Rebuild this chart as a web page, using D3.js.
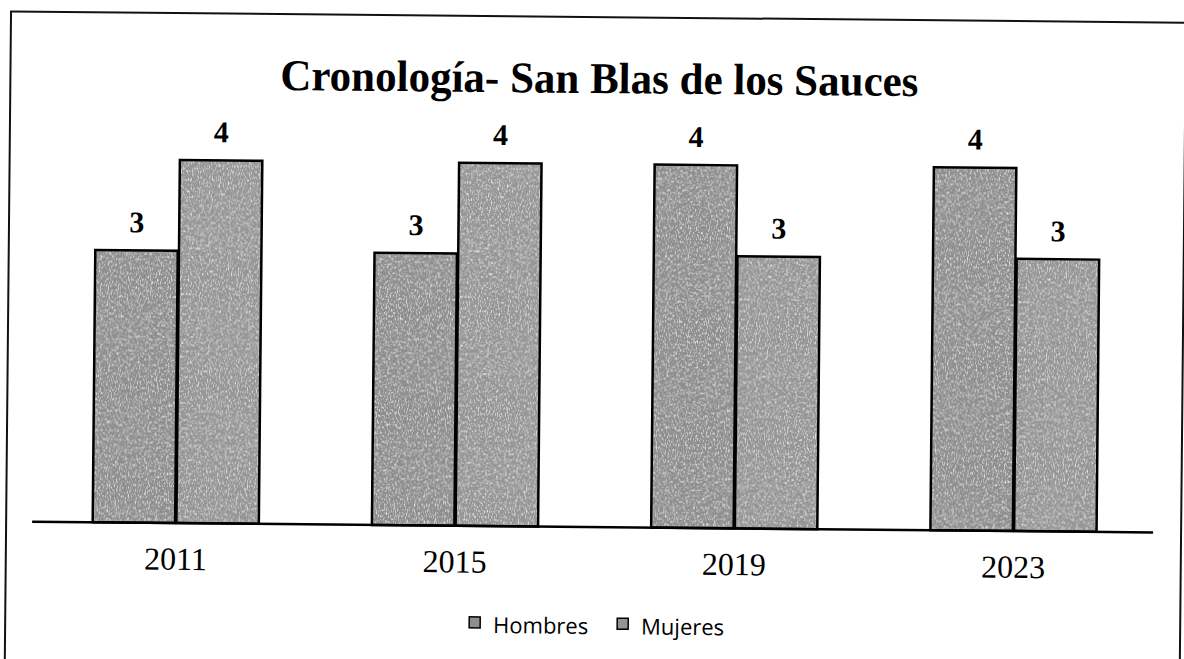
<!DOCTYPE html>
<html lang="es">
<head>
  <meta charset="UTF-8">
  <title>Cronología- San Blas de los Sauces</title>
  <script src="https://d3js.org/d3.v7.min.js"></script>
  <style>
    body { margin: 0; background: #fff; }
    svg { display: block; }
  </style>
</head>
<body>

<svg id="chart" width="1184" height="659"></svg>

<script>
  // data
  var years = ['2011', '2015', '2019', '2023'];
  var series = ['Hombres', 'Mujeres'];
  var hombres = [3, 3, 4, 4];
  var mujeres = [4, 4, 3, 3];

  var rows = years.map(function (y, i) {
    return { year: y, Hombres: hombres[i], Mujeres: mujeres[i] };
  });

  var svg = d3.select('#chart');

  // grainy grey, like the photocopy
  var defs = svg.append('defs');
  var grain = defs.append('filter').attr('id', 'grain')
    .attr('x', 0).attr('y', 0).attr('width', 1).attr('height', 1);
  grain.append('feTurbulence')
    .attr('type', 'fractalNoise')
    .attr('baseFrequency', '0.9 0.35')
    .attr('numOctaves', 2)
    .attr('seed', 3)
    .attr('result', 'noise');
  grain.append('feColorMatrix')
    .attr('in', 'noise')
    .attr('type', 'matrix')
    .attr('values', '0 0 0 0 1  0 0 0 0 1  0 0 0 0 1  0 0 0 2.2 -1.1')
    .attr('result', 'specks');
  grain.append('feComposite')
    .attr('in', 'specks').attr('in2', 'SourceGraphic')
    .attr('operator', 'in')
    .attr('result', 'clipped');
  grain.append('feMerge').call(function (m) {
    m.append('feMergeNode').attr('in', 'SourceGraphic');
    m.append('feMergeNode').attr('in', 'clipped');
  });

  // the scan is tilted a little, so the whole chart is too
  var g = svg.append('g').attr('transform', 'rotate(0.55, 592, 330)');

  // chart frame
  g.append('rect')
    .attr('x', 8).attr('y', 17)
    .attr('width', 1175).attr('height', 720)
    .attr('fill', 'none')
    .attr('stroke', '#111')
    .attr('stroke-width', 2);

  var x0 = d3.scaleBand()
    .domain(years)
    .range([38, 1155])
    .paddingInner(0.405)
    .paddingOuter(0.2025);

  var x1 = d3.scaleBand()
    .domain(series)
    .range([0, x0.bandwidth()])
    .paddingInner(0.015);

  var y = d3.scaleLinear()
    .domain([0, 4])
    .range([527, 164]);

  var fills = { Hombres: '#8e8e8e', Mujeres: '#959595' };

  // bars
  var groups = g.selectAll('g.year')
    .data(rows)
    .enter()
    .append('g')
    .attr('class', 'year')
    .attr('transform', function (d) { return 'translate(' + x0(d.year) + ',0)'; });

  groups.selectAll('rect')
    .data(function (d) { return series.map(function (s) { return { key: s, value: d[s] }; }); })
    .enter()
    .append('rect')
    .attr('x', function (d) { return x1(d.key); })
    .attr('y', function (d) { return y(d.value); })
    .attr('width', x1.bandwidth())
    .attr('height', function (d) { return y(0) - y(d.value); })
    .attr('fill', function (d) { return fills[d.key]; })
    .attr('filter', 'url(#grain)');

  groups.selectAll('rect.edge')
    .data(function (d) { return series.map(function (s) { return { key: s, value: d[s] }; }); })
    .enter()
    .append('rect')
    .attr('class', 'edge')
    .attr('x', function (d) { return x1(d.key); })
    .attr('y', function (d) { return y(d.value); })
    .attr('width', x1.bandwidth())
    .attr('height', function (d) { return y(0) - y(d.value); })
    .attr('fill', 'none')
    .attr('stroke', '#000')
    .attr('stroke-width', 2.5);

  // value labels
  groups.selectAll('text')
    .data(function (d) { return series.map(function (s) { return { key: s, value: d[s] }; }); })
    .enter()
    .append('text')
    .attr('x', function (d) { return x1(d.key) + x1.bandwidth() / 2; })
    .attr('y', function (d) { return y(d.value) - 18; })
    .attr('text-anchor', 'middle')
    .style('font-family', '"Liberation Serif", "Times New Roman", serif')
    .style('font-weight', 'bold')
    .style('font-size', '30px')
    .text(function (d) { return d.value; });

  // x axis
  var xAxis = d3.axisBottom(x0).tickSize(0).tickPadding(24);
  var axisG = g.append('g')
    .attr('transform', 'translate(0,' + y(0) + ')')
    .call(xAxis);
  axisG.select('.domain')
    .attr('d', 'M34,0H1155')
    .attr('stroke', '#000')
    .attr('stroke-width', 2.5);
  axisG.selectAll('text')
    .attr('fill', '#000')
    .style('font-family', '"Liberation Serif", "Times New Roman", serif')
    .style('font-size', '32px');

  // title
  g.append('text')
    .attr('x', 597)
    .attr('y', 93)
    .attr('text-anchor', 'middle')
    .attr('textLength', 638)
    .attr('lengthAdjust', 'spacingAndGlyphs')
    .style('font-family', '"Liberation Serif", "Times New Roman", serif')
    .style('font-weight', 'bold')
    .style('font-size', '44px')
    .text('Cronología- San Blas de los Sauces');

  // legend
  var legendX = [472, 620];
  var legend = g.selectAll('g.legend')
    .data(series)
    .enter()
    .append('g')
    .attr('class', 'legend')
    .attr('transform', function (d, i) { return 'translate(' + legendX[i] + ',618)'; });

  legend.append('rect')
    .attr('width', 11).attr('height', 11)
    .attr('fill', function (d) { return fills[d]; })
    .attr('stroke', '#000')
    .attr('stroke-width', 1.5);

  legend.append('text')
    .attr('x', 24)
    .attr('y', 16)
    .style('font-family', '"Open Sans", "Noto Sans", sans-serif')
    .style('font-size', '22px')
    .text(function (d) { return d; });
</script>

</body>
</html>
